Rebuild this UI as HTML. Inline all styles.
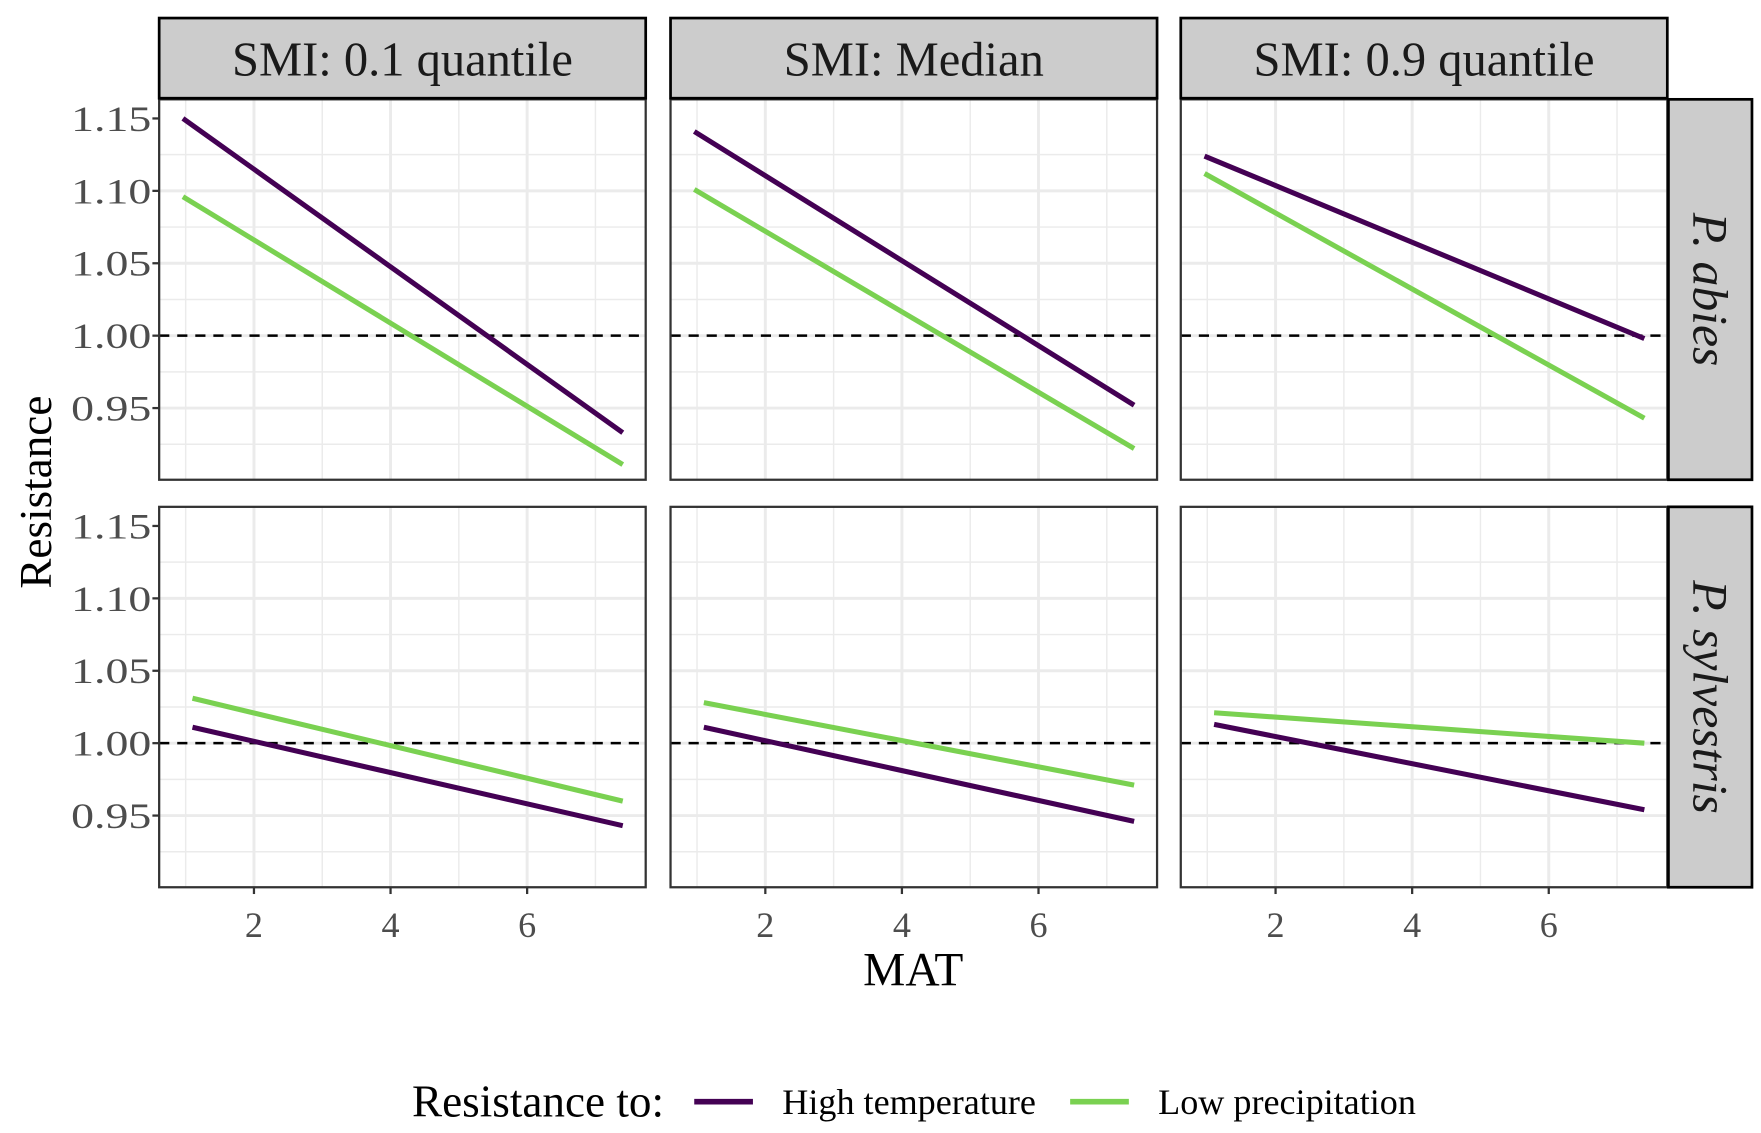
<!DOCTYPE html>
<html><head><meta charset="utf-8"><style>html,body{margin:0;padding:0;background:#fff}svg{display:block}</style></head>
<body>
<svg id="chart" width="1761" height="1133" viewBox="0 0 1560 1003.7" preserveAspectRatio="none" xmlns="http://www.w3.org/2000/svg" font-family="Liberation Serif, serif"></svg>
<script>
const colLabels = ["SMI: 0.1 quantile", "SMI: Median", "SMI: 0.9 quantile"];
const rowLabels = ["P. abies", "P. sylvestris"];
const seriesNames = ["High temperature", "Low precipitation"];
const xTicks = [2, 4, 6];
const yTicks = [0.95, 1.00, 1.05, 1.10, 1.15];
const yTickLabels = ["0.95", "1.00", "1.05", "1.10", "1.15"];
const xStartRow = [0.96, 1.1];
const xEnd = 7.4;
const highTempStart = [[1.150, 1.141, 1.124], [1.011, 1.011, 1.013]];
const highTempEnd   = [[0.933, 0.952, 0.998], [0.943, 0.946, 0.954]];
const lowPrecStart  = [[1.096, 1.101, 1.112], [1.031, 1.028, 1.021]];
const lowPrecEnd    = [[0.911, 0.922, 0.943], [0.960, 0.971, 1.000]];

const svg = document.getElementById('chart');
const NS = 'http://www.w3.org/2000/svg';
function mk(tag, attrs, parent) { const e = document.createElementNS(NS, tag); for (const k in attrs) e.setAttribute(k, attrs[k]); (parent || svg).appendChild(e); return e; }
const colX = [141, 594, 1046], panelW = 431;
const rowY = [88, 449], panelH = 337;
const colors = ["#440154", "#7AD151"];
const xMin = 0.612, xMax = 7.736, yMin = 0.9005, yMax = 1.1632;
function sx(c, v) { return colX[c] + (v - xMin) / (xMax - xMin) * panelW; }
function sy(r, v) { return rowY[r] + panelH - (v - yMin) / (yMax - yMin) * panelH; }

for (let r = 0; r < 2; r++) for (let c = 0; c < 3; c++) {
  const g = mk('g', {});
  
  
  mk('rect', { x: colX[c], y: rowY[r], width: panelW, height: panelH, fill: '#fff' }, g);
  for (let v = 1; v <= 7; v++) {
    const l = mk('line', { x1: sx(c, v), x2: sx(c, v), y1: rowY[r], y2: rowY[r] + panelH, stroke: '#ebebeb', 'stroke-width': v % 2 ? 1.3 : 2.6 }, g);
     
  }
  for (let k = 0; k < 9; k++) {
    const v = 0.925 + k * 0.025;
    const l = mk('line', { x1: colX[c], x2: colX[c] + panelW, y1: sy(r, v), y2: sy(r, v), stroke: '#ebebeb', 'stroke-width': k % 2 ? 2.6 : 1.3 }, g);
     
  }
  const ref = mk('line', { x1: colX[c], x2: colX[c] + panelW, y1: sy(r, 1), y2: sy(r, 1), stroke: '#000', 'stroke-width': 2.2, 'stroke-dasharray': '9,7' }, g);
   
  const sets = [[highTempStart, highTempEnd], [lowPrecStart, lowPrecEnd]];
  for (let s = 0; s < 2; s++) {
    const ln = mk('line', { x1: sx(c, xStartRow[r]), y1: sy(r, sets[s][0][r][c]), x2: sx(c, xEnd), y2: sy(r, sets[s][1][r][c]), stroke: colors[s], 'stroke-width': 4.5 }, g);
    
    
  }
  mk('rect', { x: colX[c], y: rowY[r], width: panelW, height: panelH, fill: 'none', stroke: '#333', 'stroke-width': 2 }, g);
  if (c === 0) {
    yTicks.forEach((v, i) => {
      mk('line', { x1: colX[c] - 6, x2: colX[c], y1: sy(r, v), y2: sy(r, v), stroke: '#333', 'stroke-width': 2 }, g);
      const t = mk('text', { x: colX[c] - 7, y: sy(r, v) + 11, 'text-anchor': 'end', 'font-size': 32, fill: '#4d4d4d', textLength: 71, lengthAdjust: 'spacingAndGlyphs' }, g);
      t.textContent = yTickLabels[i];
       
    });
  }
  if (r === 1) {
    xTicks.forEach(v => {
      mk('line', { x1: sx(c, v), x2: sx(c, v), y1: rowY[r] + panelH, y2: rowY[r] + panelH + 6, stroke: '#333', 'stroke-width': 2 }, g);
      const t = mk('text', { x: sx(c, v), y: rowY[r] + panelH + 44, 'text-anchor': 'middle', 'font-size': 32, fill: '#4d4d4d' }, g);
      t.textContent = v;
       
    });
  }
}
colLabels.forEach((lab, c) => {
  const rct = mk('rect', { x: colX[c], y: 16, width: panelW, height: 71, fill: '#cccccc', stroke: '#000', 'stroke-width': 2.4 });
   
  const t = mk('text', { x: colX[c] + panelW / 2, y: 67, 'text-anchor': 'middle', 'font-size': 43, fill: '#1a1a1a' });
  t.textContent = lab;
   
});
rowLabels.forEach((lab, r) => {
  const rct = mk('rect', { x: 1478, y: rowY[r], width: 74, height: panelH, fill: '#cccccc', stroke: '#000', 'stroke-width': 2.4 });
   
  const cy = rowY[r] + panelH / 2;
  const t = mk('text', { x: 1500, y: cy, 'text-anchor': 'middle', 'font-size': 44, 'font-style': 'italic', fill: '#1a1a1a', transform: 'rotate(90 1500 ' + cy + ')' });
  t.textContent = lab;
   
});
const xt = mk('text', { x: 809, y: 873, 'text-anchor': 'middle', 'font-size': 42 });
xt.textContent = 'MAT';
 
const yt = mk('text', { x: 45, y: 436, 'text-anchor': 'middle', 'font-size': 40, transform: 'rotate(-90 45 436)' });
yt.textContent = 'Resistance';
 
const lt = mk('text', { x: 365, y: 989, 'font-size': 40 });
lt.textContent = 'Resistance to:';
 
const legX = [615, 948];
seriesNames.forEach((n, s) => {
  const g = mk('g', {});
   
  mk('line', { x1: legX[s], x2: legX[s] + 52, y1: 976, y2: 976, stroke: colors[s], 'stroke-width': 5 }, g);
  const t = mk('text', { x: legX[s] + 78, y: 987, 'font-size': 32 }, g);
  t.textContent = n;
});
</script>
</body></html>
